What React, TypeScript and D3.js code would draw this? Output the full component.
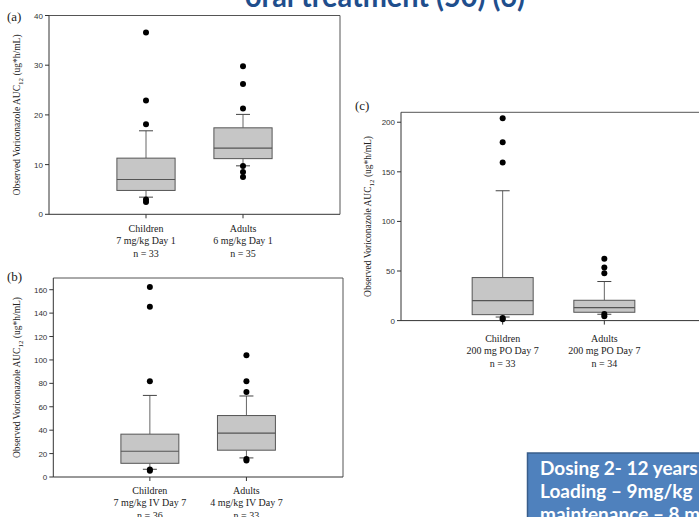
import React from "react";
import * as d3 from "d3";

// ---------- data ----------
const catsA = ["Children", "Adults"];
const doseA = ["7 mg/kg Day 1", "6 mg/kg Day 1"];
const nA = ["n = 33", "n = 35"];
// [lower whisker, q1, median, q3, upper whisker]
const statsA = [
  [3.45, 4.8, 7.0, 11.3, 16.8],
  [9.75, 11.2, 13.3, 17.4, 20.1],
];
const outA = [
  [36.6, 22.9, 18.1, 3.0, 2.5],
  [29.8, 26.2, 21.3, 9.7, 8.5, 7.5],
];
const ticksA = [0, 10, 20, 30, 40];

const catsB = ["Children", "Adults"];
const doseB = ["7 mg/kg IV Day 7", "4 mg/kg IV Day 7"];
const nB = ["n = 36", "n = 33"];
const statsB = [
  [6.6, 11.7, 22, 36.6, 69.7],
  [16.3, 22.9, 37.4, 52.5, 69.2],
];
const outB = [
  [162.3, 145.4, 81.7, 6.5, 5.3],
  [104, 81.7, 72.6, 15.3, 14],
];
const ticksB = [0, 20, 40, 60, 80, 100, 120, 140, 160];

const catsC = ["Children", "Adults"];
const doseC = ["200 mg PO Day 7", "200 mg PO Day 7"];
const nC = ["n = 33", "n = 34"];
const statsC = [
  [3.6, 6, 20.1, 43.4, 130.9],
  [6.4, 8.4, 13, 20.5, 39.4],
];
const outC = [
  [204, 179.7, 159.5, 2.6, 1.3],
  [62.3, 53.5, 47.8, 6.7, 4.3],
];
const ticksC = [0, 50, 100, 150, 200];

const titleText = "oral treatment (50) (6)";
const noteLines = ["Dosing 2- 12 years", "Loading \u2013 9mg/kg", "maintenance \u2013 8 mg/kg"];

// ---------- components ----------
type PanelProps = {
  tag: string;
  left: number;
  top: number;
  right: number;
  bottom: number;
  yMax: number;
  ticks: number[];
  cats: string[];
  dose: string[];
  ns: string[];
  stats: number[][];
  outs: number[][];
  yLabelX: number;
  tagX: number;
  tagY: number;
  labelY: number;
};

function Panel(p: PanelProps) {
  const x = d3.scaleLinear().domain([0, 3]).range([p.left, p.right]);
  const y = d3.scaleLinear().domain([0, p.yMax]).range([p.bottom, p.top]);
  const step = x(1) - x(0);
  const bw = step * 0.6;
  const cap = 7;
  const yMid = (p.top + p.bottom) / 2;
  const serif = "'Liberation Serif', 'Times New Roman', serif";
  const sans = "'Liberation Sans', Arial, sans-serif";
  return (
    <g>
      <text x={p.tagX} y={p.tagY} fontFamily={serif} fontSize={13} fill="#222">
        {p.tag}
      </text>
      {/* frame */}
      <line x1={p.left} x2={p.right} y1={p.top} y2={p.top} stroke="#555" strokeWidth={1} />
      <line x1={p.right} x2={p.right} y1={p.top} y2={p.bottom} stroke="#555" strokeWidth={1} />
      <line x1={p.left} x2={p.left} y1={p.top} y2={p.bottom} stroke="#333" strokeWidth={1} />
      <line x1={p.left} x2={p.right} y1={p.bottom} y2={p.bottom} stroke="#333" strokeWidth={1} />
      {/* y ticks */}
      {p.ticks.map((t) => (
        <g key={t}>
          <line x1={p.left - 4} x2={p.left} y1={y(t)} y2={y(t)} stroke="#333" />
          <text
            x={p.left - 6}
            y={y(t) + 3}
            textAnchor="end"
            fontFamily={sans}
            fontSize={8}
            fill="#333"
          >
            {t}
          </text>
        </g>
      ))}
      {/* y label */}
      <text
        transform={`translate(${p.yLabelX},${yMid}) rotate(-90)`}
        textAnchor="middle"
        fontFamily={serif}
        fontSize={9.5}
        fill="#222"
      >
        Observed Voriconazole AUC
        <tspan fontSize={7} dy={2.5}>
          12
        </tspan>
        <tspan dy={-2.5}> (ug*h/mL)</tspan>
      </text>
      {p.cats.map((c, i) => {
        const cx = x(i + 1);
        const s = p.stats[i];
        return (
          <g key={c}>
            <line x1={cx} x2={cx} y1={p.bottom} y2={p.bottom + 4} stroke="#333" />
            {/* whiskers */}
            <line x1={cx} x2={cx} y1={y(s[3])} y2={y(s[4])} stroke="#666" />
            <line x1={cx} x2={cx} y1={y(s[1])} y2={y(s[0])} stroke="#666" />
            <line x1={cx - cap} x2={cx + cap} y1={y(s[4])} y2={y(s[4])} stroke="#444" />
            <line x1={cx - cap} x2={cx + cap} y1={y(s[0])} y2={y(s[0])} stroke="#444" />
            {/* box */}
            <rect
              x={cx - bw / 2}
              y={y(s[3])}
              width={bw}
              height={y(s[1]) - y(s[3])}
              fill="#c6c6c6"
              stroke="#555"
              strokeWidth={1}
            />
            <line x1={cx - bw / 2} x2={cx + bw / 2} y1={y(s[2])} y2={y(s[2])} stroke="#555" strokeWidth={1.2} />
            {p.outs[i].map((v, j) => (
              <circle key={j} cx={cx} cy={y(v)} r={3} fill="#000" />
            ))}
            {/* category labels */}
            <text x={cx} y={p.labelY} textAnchor="middle" fontFamily={serif} fontSize={10} fill="#222">
              {c}
            </text>
            <text x={cx} y={p.labelY + 12.5} textAnchor="middle" fontFamily={serif} fontSize={10} fill="#222">
              {p.dose[i]}
            </text>
            <text x={cx} y={p.labelY + 25} textAnchor="middle" fontFamily={serif} fontSize={10} fill="#222">
              {p.ns[i]}
            </text>
          </g>
        );
      })}
    </g>
  );
}

export default function App() {
  return (
    <svg
      width={699}
      height={517}
      style={{ position: "absolute", left: 0, top: 0, background: "#fff" }}
    >
      <rect x={0} y={0} width={699} height={517} fill="#fff" />
      <text
        x={245}
        y={7}
        fontFamily="Lato, 'Open Sans', sans-serif"
        fontWeight={700}
        fontSize={30}
        fill="#1f4e8c"
        textLength={280}
        lengthAdjust="spacingAndGlyphs"
      >
        {titleText}
      </text>
      <Panel
        tag="(a)"
        left={49}
        top={15.5}
        right={340}
        bottom={214.3}
        yMax={40}
        ticks={ticksA}
        cats={catsA}
        dose={doseA}
        ns={nA}
        stats={statsA}
        outs={outA}
        yLabelX={20}
        tagX={7}
        tagY={21}
        labelY={231.5}
      />
      <Panel
        tag="(b)"
        left={53.3}
        top={278}
        right={343}
        bottom={477}
        yMax={170}
        ticks={ticksB}
        cats={catsB}
        dose={doseB}
        ns={nB}
        stats={statsB}
        outs={outB}
        yLabelX={20}
        tagX={7}
        tagY={281}
        labelY={493.5}
      />
      <Panel
        tag="(c)"
        left={401}
        top={112.3}
        right={706}
        bottom={320.6}
        yMax={210}
        ticks={ticksC}
        cats={catsC}
        dose={doseC}
        ns={nC}
        stats={statsC}
        outs={outC}
        yLabelX={371}
        tagX={355}
        tagY={110}
        labelY={341.5}
      />
      {/* note box */}
      <rect x={527.5} y={453} width={200} height={80} fill="#4f81bd" stroke="#385d8a" strokeWidth={1.5} />
      {noteLines.map((l, i) => (
        <text
          key={i}
          x={540}
          y={474.5 + i * 23}
          fontFamily="Lato, 'Open Sans', sans-serif"
          fontWeight={700}
          fontSize={19}
          fill="#fff"
        >
          {l}
        </text>
      ))}
    </svg>
  );
}
